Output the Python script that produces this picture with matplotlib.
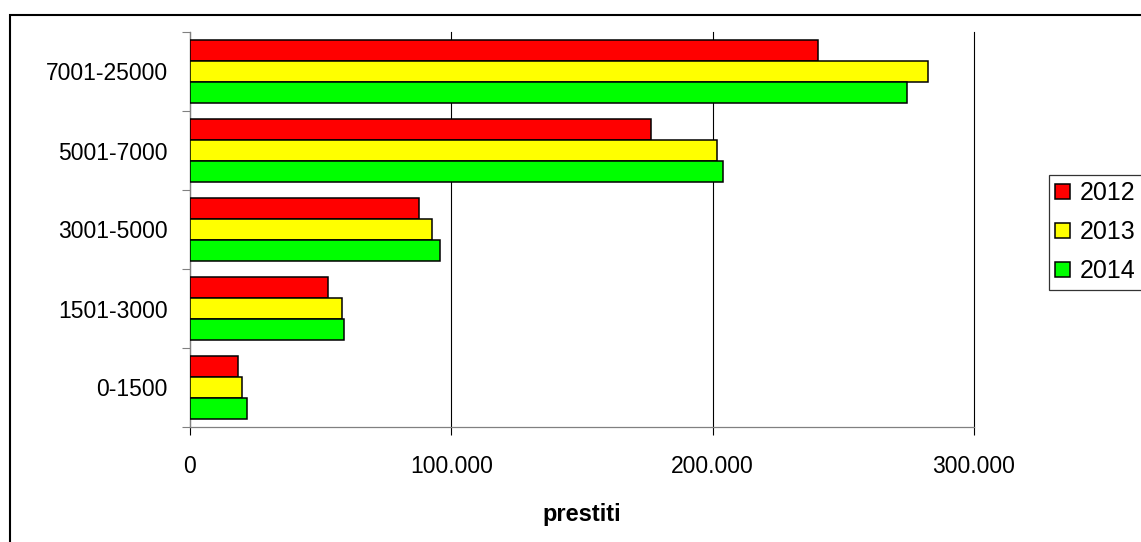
import matplotlib
matplotlib.use("Agg")
import matplotlib.pyplot as plt
from matplotlib.patches import Rectangle
from matplotlib.ticker import FuncFormatter, FixedLocator
import numpy as np

plt.rcParams['font.family'] = ['Liberation Sans', 'DejaVu Sans']

categories = ["0-1500", "1501-3000", "3001-5000", "5001-7000", "7001-25000"]
years = ["2012", "2013", "2014"]
values_2012 = [18400, 52800, 87600, 176400, 240200]
values_2013 = [19900, 58300, 92600, 201600, 282500]
values_2014 = [21800, 58900, 95700, 204100, 274500]
x_ticks = [0, 100000, 200000, 300000]
colors = ["#FF0000", "#FFFF00", "#00FF00"]

W, H = 1141, 542
fig = plt.figure(figsize=(W / 100, H / 100), dpi=100)
ax = fig.add_axes([190 / W, 1 - 427 / H, (974 - 190) / W, (427 - 32) / H])

y = np.arange(len(categories))
bh = 0.266
series = [values_2012, values_2013, values_2014]
offsets = [bh, 0, -bh]
for vals, off, col, lab in zip(series, offsets, colors, years):
    ax.barh(y + off, vals, height=bh, color=col, edgecolor="black",
            linewidth=1.1, label=lab, zorder=3)

ax.set_xlim(0, 300000)
ax.set_ylim(-0.5, len(categories) - 0.5)

ax.xaxis.set_major_locator(FixedLocator(x_ticks))
ax.xaxis.set_major_formatter(FuncFormatter(lambda v, p: f"{int(v):,}".replace(",", ".")))
ax.tick_params(axis="x", direction="out", length=6, width=0.8, color="black",
               labelsize=16.5, pad=14)

# category boundaries carry the tick marks, labels sit at the centres
ax.yaxis.set_major_locator(FixedLocator(np.arange(-0.5, len(categories), 1.0)))
ax.yaxis.set_minor_locator(FixedLocator(y))
ax.set_yticklabels([""] * (len(categories) + 1))
ax.set_yticklabels(categories, minor=True)
ax.tick_params(axis="y", which="major", direction="out", length=6, width=0.8,
               color="#808080")
ax.tick_params(axis="y", which="minor", length=0, labelsize=16.5, pad=16)

ax.grid(axis="x", color="black", linewidth=0.8)
ax.set_axisbelow(True)
for gl in ax.get_xgridlines():
    gl.set_clip_on(False)

for s in ["top", "right"]:
    ax.spines[s].set_visible(False)
for s in ["left", "bottom"]:
    ax.spines[s].set_color("#808080")
    ax.spines[s].set_linewidth(0.9)

ax.set_xlabel("prestiti", fontsize=17, fontweight="bold", labelpad=18)

leg = fig.legend(loc="upper left", bbox_to_anchor=(1049 / W, 1 - 175 / H),
                 fontsize=18, frameon=True, fancybox=False, edgecolor="black",
                 handlelength=0.58, handleheight=0.58, handletextpad=0.4,
                 labelspacing=0.6, borderpad=0.25, borderaxespad=0)
leg.get_frame().set_linewidth(0.9)

fig.add_artist(Rectangle((10 / W, -0.1), 2, 1 - 15 / H + 0.1,
                         transform=fig.transFigure, fill=False,
                         edgecolor="black", linewidth=1.5))

fig.savefig("out.png", dpi=100)
